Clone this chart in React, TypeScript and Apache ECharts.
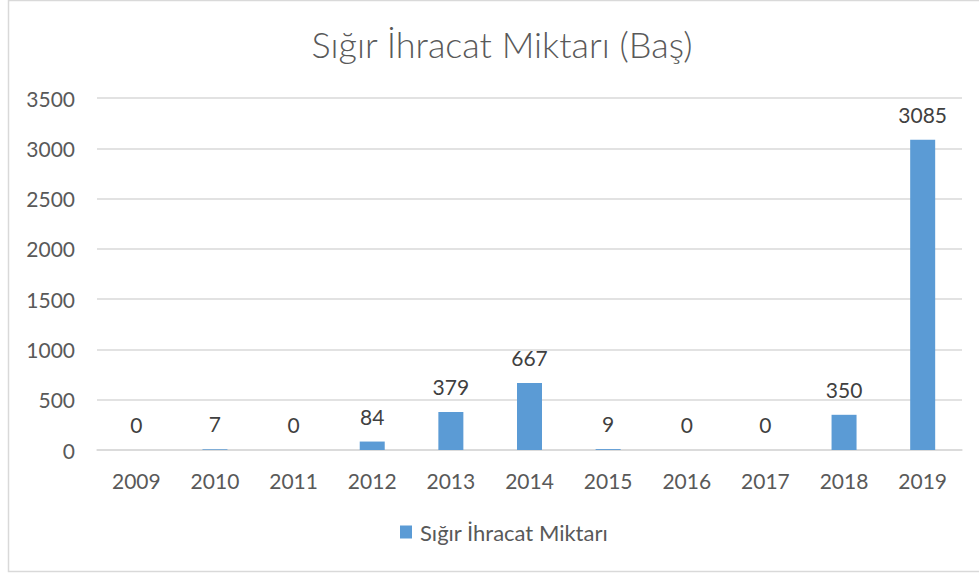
import React, { useEffect, useRef } from "react";
import * as echarts from "echarts";

const title = "Sığır İhracat Miktarı (Baş)";
const seriesName = "Sığır İhracat Miktarı";
const years = ["2009", "2010", "2011", "2012", "2013", "2014", "2015", "2016", "2017", "2018", "2019"];
const values = [0, 7, 0, 84, 379, 667, 9, 0, 0, 350, 3085];

const FONT = "Lato, 'Open Sans', sans-serif";

export default function App() {
  const ref = useRef<HTMLDivElement>(null);
  useEffect(() => {
    if (!ref.current) return;
    const chart = echarts.init(ref.current, null, { renderer: "svg" });
    chart.setOption({
      animation: false,
      backgroundColor: "#ffffff",
      title: {
        text: title,
        left: 497,
        textAlign: "center",
        top: 21,
        textStyle: { fontFamily: FONT, fontSize: 36, fontWeight: 300, color: "#595959" },
      },
      graphic: [
        {
          type: "rect",
          shape: { x: 8.5, y: 0.5, width: 990, height: 571 },
          style: { fill: "none", stroke: "#d9d9d9", lineWidth: 1.5 },
          silent: true,
        },
      ],
      legend: {
        bottom: 25,
        left: 395,
        itemWidth: 12,
        itemHeight: 13,
        itemGap: 8,
        icon: "rect",
        textStyle: { fontFamily: FONT, fontSize: 22, color: "#595959", padding: [0, 0, 0, 3] },
        data: [seriesName],
      },
      grid: { left: 97, right: 17, top: 98, bottom: 123, containLabel: false },
      xAxis: {
        type: "category",
        data: years,
        axisLine: { show: true, lineStyle: { color: "#d9d9d9", width: 1.5 } },
        axisTick: { show: false },
        axisLabel: { fontFamily: FONT, fontSize: 21, color: "#595959", margin: 20 },
      },
      yAxis: {
        type: "value",
        min: 0,
        max: 3500,
        interval: 500,
        axisLine: { show: false },
        axisTick: { show: false },
        splitLine: { lineStyle: { color: "#d9d9d9", width: 1.5 } },
        axisLabel: {
          fontFamily: FONT,
          fontSize: 21,
          color: "#595959",
          margin: 22,
          formatter: (v: number) => String(v),
        },
      },
      series: [
        {
          name: seriesName,
          type: "bar",
          data: values,
          barWidth: 25,
          itemStyle: { color: "#5b9bd5" },
          label: {
            show: true,
            position: "top",
            distance: 15,
            fontFamily: FONT,
            fontSize: 21,
            color: "#404040",
          },
        },
      ],
    });
    return () => chart.dispose();
  }, []);
  return (
    <div
      ref={ref}
      style={{ position: "fixed", left: 0, top: 0, width: 979, height: 573 }}
    />
  );
}
